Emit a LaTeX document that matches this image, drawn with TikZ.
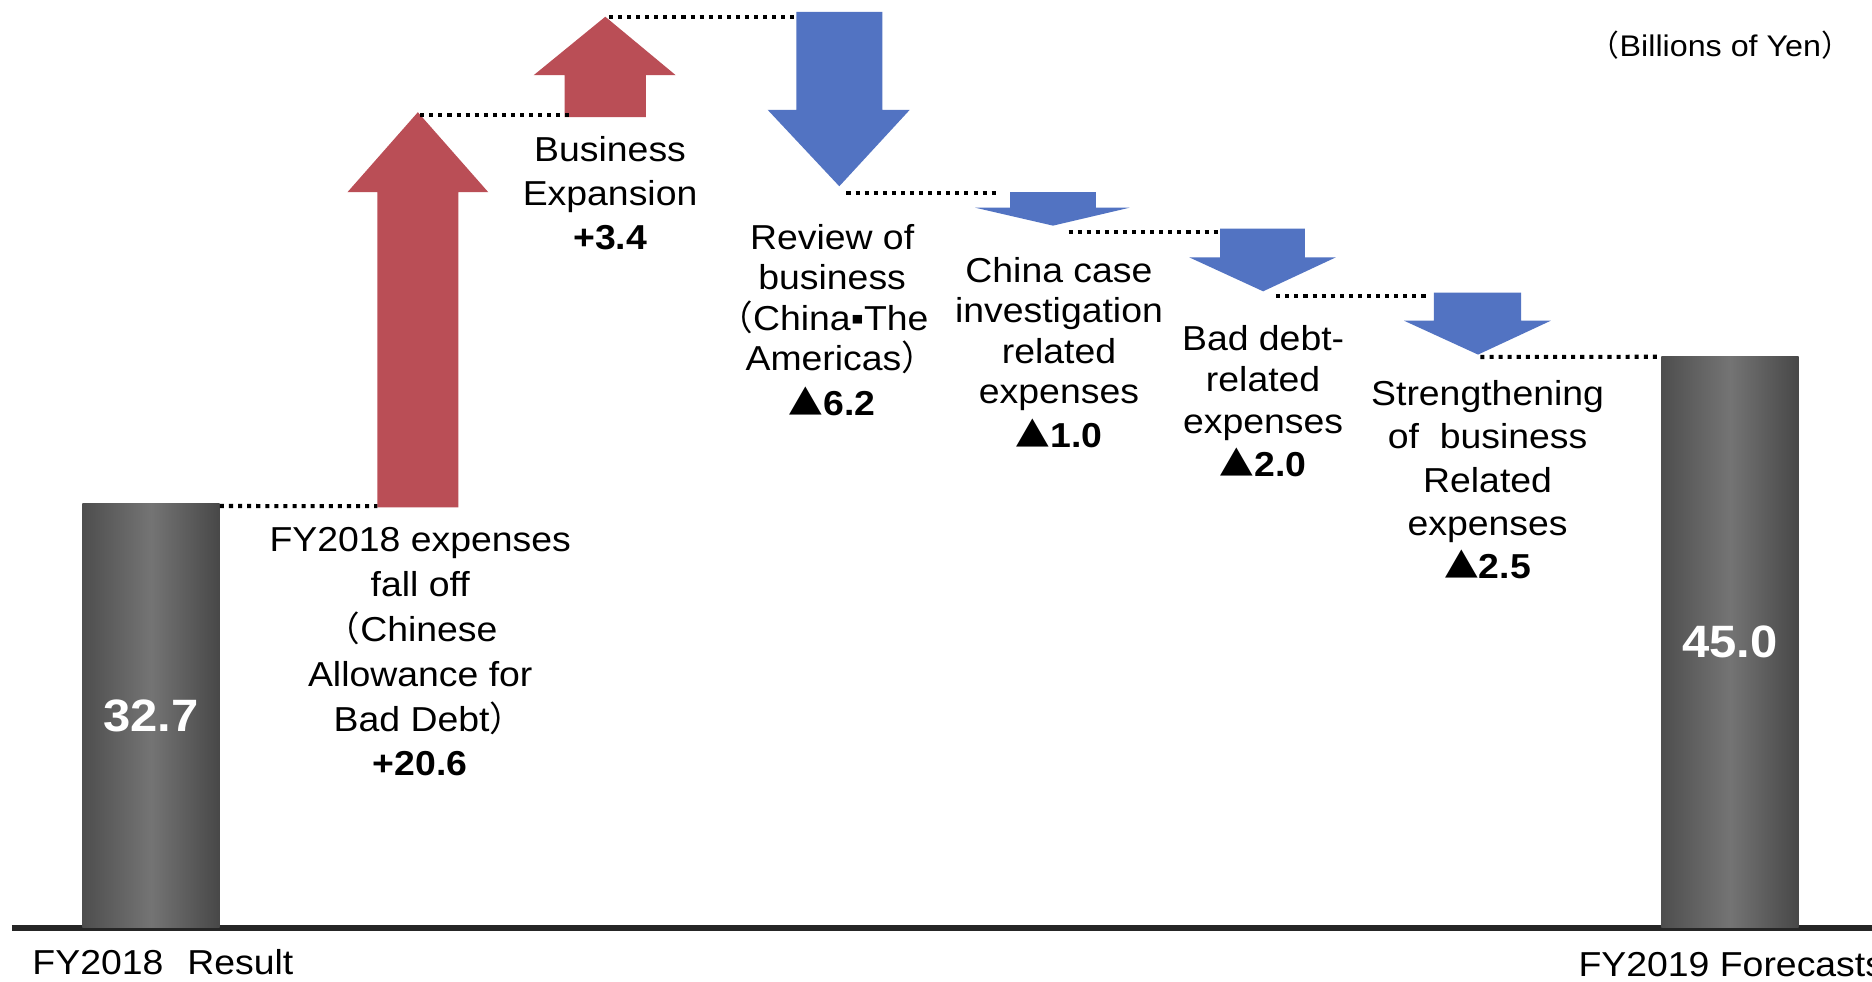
\documentclass[tikz,border=0pt]{standalone}
\usepackage{fontspec}
\setmainfont{Liberation Sans}[FakeStretch=1.08]
\newfontfamily\cjkfont{Noto Sans CJK JP}
\newcommand{\myLP}{\kern-0.5em{\cjkfont （}}
\newcommand{\myRP}{{\cjkfont ）}\kern-0.5em}
\newcommand{\myTri}{{\cjkfont ▲}}
\definecolor{upred}{RGB}{186,78,86}
\definecolor{downblue}{RGB}{82,115,194}
\definecolor{bardark}{RGB}{78,78,78}
\definecolor{barlight}{RGB}{116,116,116}
\begin{document}
\begin{tikzpicture}[x=1pt,y=-1pt,
  lbl/.style={align=center,anchor=north,inner sep=0pt},
  dotline/.style={line width=3.4pt,dash pattern=on 3.4pt off 4.2pt,black},
  barbox/.style={left color=bardark,right color=bardark!92!black,middle color=barlight,
     minimum width=115pt,inner sep=0pt,text=white,font=\bfseries\fontsize{38}{38}\selectfont},
  uparrow/.style={fill=upred},
  downarrow/.style={fill=downblue}]
\clip (0,0) rectangle (1568,822);
\fill[white] (0,0) rectangle (1568,822);

% base line
\coordinate (axl) at (10,777.5);
\coordinate (axr) at (1568,777.5);
\draw[line width=5pt,black!85] (axl) -- (axr);

% bars
\node[barbox,minimum height=355pt] (bar1) at (126.5,599.5) {32.7};
\node[barbox,minimum height=478pt] (bar2) at (1449,538) {45.0};

% red arrows
\fill[uparrow] (316,425) -- (316,161) -- (291,161) -- (350,94) -- (409,161) -- (384,161) -- (384,425) -- cycle;
\fill[uparrow] (473,98) -- (473,63) -- (447,63) -- (507,14) -- (566,63) -- (541,63) -- (541,98) -- cycle;
% blue arrows
\fill[downarrow] (667,10) -- (667,92) -- (643,92) -- (703,156) -- (762,92) -- (739,92) -- (739,10) -- cycle;
\fill[downarrow] (846,161) -- (846,174) -- (817,174) -- (882,189) -- (946,174) -- (918,174) -- (918,161) -- cycle;
\fill[downarrow] (1022,191.5) -- (1022,215.5) -- (996,215.5) -- (1058,244) -- (1119,215.5) -- (1093,215.5) -- (1093,191.5) -- cycle;
\fill[downarrow] (1201,245) -- (1201,268.6) -- (1176,268.6) -- (1238,297) -- (1299,268.6) -- (1274,268.6) -- (1274,245) -- cycle;

% connector end points
\coordinate (a1s) at (316,424);
\coordinate (a1t) at (352,96.5);
\coordinate (a2s) at (478,96.5);
\coordinate (a2t) at (510,14.5);
\coordinate (b1s) at (668,14.5);
\coordinate (b1t) at (709,162);
\coordinate (b2s) at (838,162);
\coordinate (b2t) at (895,194);
\coordinate (b3s) at (1021,194);
\coordinate (b3t) at (1069,248);
\coordinate (b4s) at (1195,248);
\coordinate (b4t) at (1240,299);

% dotted connectors
\draw[dotline] (bar1.north east) ++(0,2) -- (a1s);
\draw[dotline] (a1t) -- (a2s);
\draw[dotline] (a2t) -- (b1s);
\draw[dotline] (b1t) -- (b2s);
\draw[dotline] (b2t) -- (b3s);
\draw[dotline] (b3t) -- (b4s);
\draw[dotline] (b4t) -- (bar2.north west);

% labels
\node[lbl,font=\fontsize{29}{37.6}\selectfont] (lab1) at (352,441.5)
  {FY2018 expenses\\fall off\\\myLP Chinese\\Allowance for\\Bad Debt\myRP\\\textbf{+20.6}};
\node[lbl,font=\fontsize{29}{37}\selectfont] (lab2) at (511,114)
  {Business\\Expansion\\\textbf{+3.4}};
\node[lbl,font=\fontsize{29}{34}\selectfont] (lab3) at (697,187.5)
  {Review of\\business\\\myLP China▪The\\Americas\myRP\\[3pt]\myTri\textbf{6.2}};
\node[lbl,font=\fontsize{29}{33.7}\selectfont] (lab4) at (887,215.5)
  {China case\\investigation\\related\\expenses\\[3pt]\myTri\textbf{1.0}};
\node[lbl,font=\fontsize{29}{34.5}\selectfont] (lab5) at (1058,272.5)
  {Bad debt-\\related\\expenses\\[1.5pt]\myTri\textbf{2.0}};
\node[lbl,font=\fontsize{29}{36.2}\selectfont] (lab6) at (1246,318.5)
  {Strengthening\\of\ \ business\\Related\\expenses\\\myTri\textbf{2.5}};

% axis labels and unit
\node[anchor=base west,inner sep=0pt,font=\fontsize{29}{29}\selectfont] (res) at (27,816)
  {FY2018\hspace{20pt}Result};
\node[anchor=base west,inner sep=0pt,font=\fontsize{29}{29}\selectfont] (fc) at (1322,818)
  {FY2019 Forecasts};
\node[inner sep=0pt,font=\fontsize{25}{25}\selectfont] (unit) at (1441,38)
  {\myLP Billions of Yen\myRP};
\end{tikzpicture}
\end{document}
